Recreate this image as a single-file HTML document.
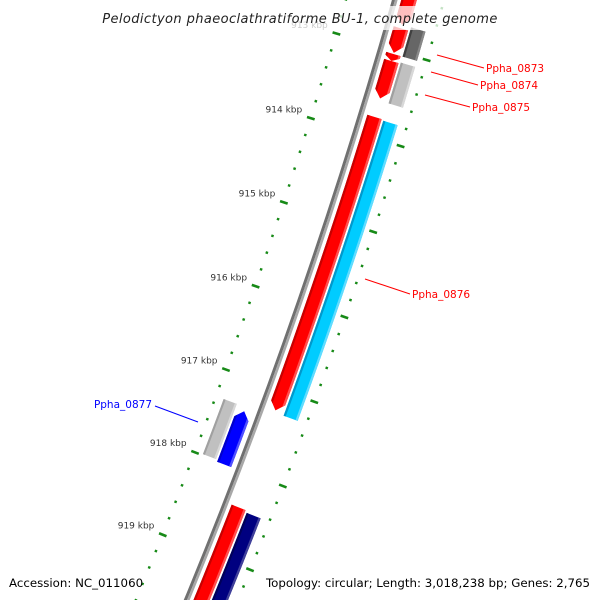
<!DOCTYPE html>
<html><head><meta charset="utf-8"><style>
html,body{margin:0;padding:0;background:#fff;width:600px;height:600px;overflow:hidden;}
svg{display:block;overflow:hidden;}
text{font-family:"DejaVu Sans","Liberation Sans",sans-serif;}
</style></head><body>
<svg id="map" width="600" height="600" viewBox="0 0 600 600">
<g id="ticks"></g>
<g id="backbone"></g>
<g id="genes"></g>
<g id="labels"></g>
<rect x="100" y="6" width="400" height="24" fill="#fff" fill-opacity="0.75"/>
<text x="300" y="23" text-anchor="middle" font-size="13" font-style="italic" fill="#222" letter-spacing="0.4">Pelodictyon phaeoclathratiforme BU-1, complete genome</text>
<text x="9" y="587" font-size="11.8" fill="#000">Accession: NC_011060</text>
<text x="590" y="587" text-anchor="end" font-size="11.8" fill="#000">Topology: circular; Length: 3,018,238 bp; Genes: 2,765</text>
</svg>
<script>
// ---- data ----
const geneNames = ["Ppha_0872","Ppha_0873","Ppha_0874","Ppha_0875","Ppha_0876","Ppha_0876b","Ppha_0873b","Ppha_0875b","Ppha_0877","Ppha_0877b","Ppha_0878","Ppha_0878b"];
const geneStart = [911500,912742,913040,913122,913775,913787,912700,913110,917370,917322,918400,918425];
const geneEnd   = [912700,913027,913122,913560,917240,917264,913040,913585,918010,917986,920500,920500];
const geneStrand= [1,1,1,1,1,0,0,0,-1,0,1,0];      // 1 fwd arrow, -1 rev arrow, 0 box
const geneLane  = ["r1","r1","r1","r1","r1","r2","r2","r2","l1","l2","r1","r2"];
const geneColor = ["red","red","red","red","red","cyan","dgray","lgray","blue","lgray","red","navy"];
const labelText = ["Ppha_0873","Ppha_0874","Ppha_0875","Ppha_0876","Ppha_0877"];
const labelColor= ["#ff0000","#ff0000","#ff0000","#ff0000","#0000ff"];
const majorTicks = [912000,913000,914000,915000,916000,917000,918000,919000,920000];
const tickLabels = ["912 kbp","913 kbp","914 kbp","915 kbp","916 kbp","917 kbp","918 kbp","919 kbp","920 kbp"];

// ---- geometry ----
const NS="http://www.w3.org/2000/svg";
const R=5600, d=[-0.3276,0.9448], n=[0.9448,0.3276], mid=[299.5,303];
const C=[mid[0]-R*n[0], mid[1]-R*n[1]];
function P(bp,u){
  const t=(bp-916000)*0.0892-1.5, f=t/R, c=Math.cos(f), s=Math.sin(f);
  const v=[n[0]*c+d[0]*s, n[1]*c+d[1]*s];
  return [C[0]+(R+u)*v[0], C[1]+(R+u)*v[1]];
}
function mk(tag,attrs,parent){const e=document.createElementNS(NS,tag);for(const k in attrs)e.setAttribute(k,attrs[k]);parent.appendChild(e);return e;}
function band(b1,b2,u1,u2){
  const pts=[];const N=20;
  for(let i=0;i<=N;i++)pts.push(P(b1+(b2-b1)*i/N,u1));
  for(let i=N;i>=0;i--)pts.push(P(b1+(b2-b1)*i/N,u2));
  return pts.map(p=>p[0].toFixed(2)+","+p[1].toFixed(2)).join(" ");
}
const lanes={r1:[6,21],r2:[23,38],l1:[-23,-8],l2:[-39,-25]};
const palette={
  red:["#c80000","#ff0000","#ff5050"], cyan:["#0099cc","#00ccff","#60dcff"],
  blue:["#0000cc","#0000ff","#5050ff"], navy:["#00005a","#000080","#40409a"],
  lgray:["#a0a0a0","#c0c0c0","#d8d8d8"], dgray:["#404040","#666666","#888888"]
};

// ticks
const tg=document.getElementById('ticks');
for(let bp=911800;bp<=920400;bp+=200){
  const major = bp%1000===0;
  [-1,1].forEach(side=>{
    const a=P(bp,side*(major?43:46)), b=P(bp,side*(major?51:48.5));
    const l=mk('line',{x1:a[0],y1:a[1],x2:b[0],y2:b[1],stroke:"#178a17","stroke-width":major?2.6:2.4},tg);
    
    
  });
}
majorTicks.forEach((bp,i)=>{
  const p=P(bp,-56);
  const t=mk('text',{x:p[0],y:p[1]-3,"text-anchor":"end","font-size":"9",fill:"#333"},tg);
  t.textContent=tickLabels[i];
  
  
});

// backbone
const bg=document.getElementById('backbone');
mk('polygon',{points:band(911000,921000,-3,0),fill:"#707070"},bg);
mk('polygon',{points:band(911000,921000,0,2.5),fill:"#a8a8a8"},bg);

// genes
const gg=document.getElementById('genes');
const defs=mk('defs',{},gg);
geneNames.forEach((name,i)=>{
  const [u1,u2]=lanes[geneLane[i]], s=geneStart[i], en=geneEnd[i], st=geneStrand[i];
  const head=Math.min(90,(en-s)*0.6), um=(u1+u2)/2;
  let pts;
  if(st===1){
    pts=band(s,en-head,u1,u2).split(" ");
    const tip=P(en,um);
    pts.splice(21,0,tip[0].toFixed(2)+","+tip[1].toFixed(2));
    pts=pts.join(" ");
  } else if(st===-1){
    pts=band(s+head,en,u1,u2).split(" ");
    const tip=P(s,um);
    pts.push(tip[0].toFixed(2)+","+tip[1].toFixed(2));
    pts=pts.join(" ");
  } else pts=band(s,en,u1,u2);
  const cp=mk('clipPath',{id:"cp"+i},defs);
  mk('polygon',{points:pts},cp);
  const g=mk('g',{"clip-path":"url(#cp"+i+")"},gg);
  
  
  const col=palette[geneColor[i]], w=u2-u1;
  mk('polygon',{points:band(s-200,en+200,u1-2,u2+2),fill:col[1]},g);
  mk('polygon',{points:band(s-200,en+200,u1-2,u1+w*0.15),fill:col[0]},g);
  mk('polygon',{points:band(s-200,en+200,u2-w*0.15,u2+2),fill:col[2]},g);
});

// gene labels
const lg=document.getElementById('labels');
const lblLine=[[437,55,484,68],[431,72,478,85],[425,95,470,107],[365,279,410,294],[198,422,155,406]];
const lblPos=[[486,72,"start"],[480,89,"start"],[472,111,"start"],[412,298,"start"],[152,408,"end"]];
labelText.forEach((t,i)=>{
  const L=lblLine[i];
  const ln=mk('line',{x1:L[0],y1:L[1],x2:L[2],y2:L[3],stroke:labelColor[i],"stroke-width":1},lg);
  
  
  const p=lblPos[i];
  const tx=mk('text',{x:p[0],y:p[1],"text-anchor":p[2],"font-size":"10.5",fill:labelColor[i]},lg);
  tx.textContent=t;
  
  
});
</script>
</body></html>
